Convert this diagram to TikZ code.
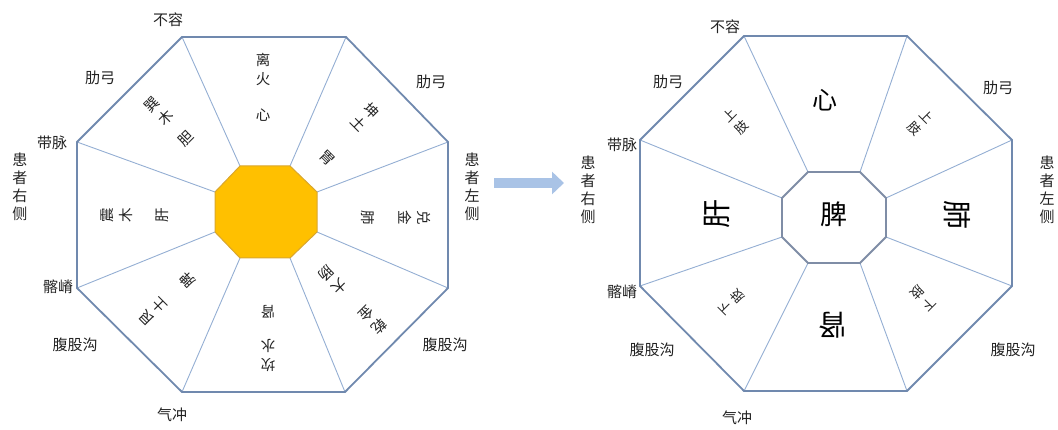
\documentclass[tikz,border=0pt]{standalone}
\usepackage{fontspec}
\newfontfamily\cjk{Noto Sans CJK SC}
\usetikzlibrary{arrows.meta}
\definecolor{octline}{HTML}{7089AE}
\definecolor{spoke}{HTML}{94AED3}
\definecolor{gold}{HTML}{FFC000}
\definecolor{goldline}{HTML}{D9A62E}
\definecolor{innerline}{HTML}{7F8DA6}
\definecolor{arrowblue}{HTML}{A9C3E6}
\definecolor{txt}{HTML}{222222}
\begin{document}
\begin{tikzpicture}[x=1pt,y=-1pt,
  lab/.style={font=\cjk\fontsize{15}{18}\selectfont, inner sep=0pt, text=txt, align=center},
  sec/.style={font=\cjk\fontsize{14.5}{19}\selectfont, inner sep=0pt, text=txt, align=center},
  small/.style={font=\cjk\fontsize{13}{17}\selectfont, inner sep=0pt, text=txt, align=center},
  big/.style={font=\cjk\fontsize{29}{30}\selectfont, inner sep=0pt, text=black, align=center},
  outeroct/.style={draw=octline, line width=1.8pt, line join=miter},
  spokeline/.style={draw=spoke, line width=0.9pt},
  goldoct/.style={draw=goldline, fill=gold, line width=1pt},
  whiteoct/.style={draw=innerline, fill=white, line width=1.8pt},
]
\useasboundingbox (0,0) rectangle (1058,430);

% ---------- left octagon ----------
\coordinate (L1) at (182,37);  \coordinate (L2) at (346,37);
\coordinate (L3) at (448,142); \coordinate (L4) at (448,288);
\coordinate (L5) at (345,392); \coordinate (L6) at (182,392);
\coordinate (L7) at (77,288);  \coordinate (L8) at (77,142);
\coordinate (I1) at (240,166); \coordinate (I2) at (290,166);
\coordinate (I3) at (317,192); \coordinate (I4) at (317,232);
\coordinate (I5) at (290,258); \coordinate (I6) at (240,258);
\coordinate (I7) at (215,232); \coordinate (I8) at (215,192);
\foreach \k in {1,...,8} { \draw[spokeline] (L\k) -- (I\k); }
\draw[outeroct] (L1) -- (L2) -- (L3) -- (L4) -- (L5) -- (L6) -- (L7) -- (L8) -- cycle;
\draw[goldoct] (I1) -- (I2) -- (I3) -- (I4) -- (I5) -- (I6) -- (I7) -- (I8) -- cycle;

% sector texts (left)
\node[sec] (li) at (263,69) {离\\火};
\node[sec] (xin) at (263,115) {心};
\node[sec, rotate=45] (xun) at (159,111) {巽\\木};
\node[sec, rotate=45] (dan) at (186,139) {胆};
\node[sec, rotate=-45] (kun) at (365,117) {坤\\土};
\node[sec, rotate=-45] (wei) at (327,158) {胃};
\node[sec, rotate=-90] (dui) at (415,218) {兑\\金};
\node[sec, rotate=-90] (fei) at (368,218) {肺};
\node[sec, rotate=-135] (qian) at (373,320) {乾\\金};
\node[sec, rotate=-135] (dach) at (333,280) {大\\肠};
\node[sec, rotate=180] (kan) at (268,355) {坎\\水};
\node[sec, rotate=180] (shen) at (268,312) {肾};
\node[sec, rotate=135] (gen) at (153,312) {艮\\土};
\node[sec, rotate=135] (pi) at (187,280) {脾};
\node[sec, rotate=90] (zhen) at (117,215) {震\\木};
\node[sec, rotate=90] (gan) at (162,215) {肝};

% outer labels (left)
\node[lab] (bur1) at (168,20) {不容};
\node[lab] (lg1) at (100,78) {肋弓};
\node[lab] (lg2) at (431,82) {肋弓};
\node[lab] (dm1) at (52,143) {带脉};
\node[lab] (yc1) at (20,187) {患\\者\\右\\侧};
\node[lab] (zc1) at (472,187) {患\\者\\左\\侧};
\node[lab] (qj1) at (58,287) {髂嵴};
\node[lab] (fg1) at (75,345) {腹股沟};
\node[lab] (fg2) at (445,345) {腹股沟};
\node[lab] (qc1) at (172,415) {气冲};

% ---------- arrow ----------
\coordinate (arrA) at (494,183);
\coordinate (arrB) at (564,183);
\draw[arrowblue, line width=9.5pt, -{Triangle[length=12pt,width=22pt]}] (arrA) -- (arrB);

% ---------- right octagon ----------
\coordinate (R1) at (744,36);   \coordinate (R2) at (907,36);
\coordinate (R3) at (1012,140); \coordinate (R4) at (1012,286);
\coordinate (R5) at (907,391);  \coordinate (R6) at (744,391);
\coordinate (R7) at (640,286);  \coordinate (R8) at (640,140);
\coordinate (J1) at (808,172); \coordinate (J2) at (860,172);
\coordinate (J3) at (886,198); \coordinate (J4) at (886,237);
\coordinate (J5) at (860,263); \coordinate (J6) at (808,263);
\coordinate (J7) at (782,237); \coordinate (J8) at (782,198);
\foreach \k in {1,...,8} { \draw[spokeline] (R\k) -- (J\k); }
\draw[outeroct] (R1) -- (R2) -- (R3) -- (R4) -- (R5) -- (R6) -- (R7) -- (R8) -- cycle;
\draw[whiteoct] (J1) -- (J2) -- (J3) -- (J4) -- (J5) -- (J6) -- (J7) -- (J8) -- cycle;

% sector texts (right)
\node[big, font=\cjk\fontsize{25}{26}\selectfont] (rxin) at (825,100) {心};
\node[big, font=\cjk\fontsize{27}{28}\selectfont] (rpi) at (834,214) {脾};
\node[big, rotate=90] (rgan) at (717,214) {肝};
\node[big, rotate=-90] (rfei) at (957,215) {肺};
\node[big, rotate=180] (rshen) at (833,325) {肾};
\node[small, rotate=45] (szl) at (736,121) {上\\肢};
\node[small, rotate=-45] (szr) at (921,123) {上\\肢};
\node[small, rotate=135] (xzl) at (732,302) {下\\肢};
\node[small, rotate=-135] (xzr) at (923,298) {下\\肢};

% outer labels (right)
\node[lab] (bur2) at (725,27) {不容};
\node[lab] (lg3) at (668,82) {肋弓};
\node[lab] (lg4) at (998,88) {肋弓};
\node[lab] (dm2) at (622,145) {带脉};
\node[lab] (yc2) at (588,190) {患\\者\\右\\侧};
\node[lab] (zc2) at (1047,190) {患\\者\\左\\侧};
\node[lab] (qj2) at (622,292) {髂嵴};
\node[lab] (fg3) at (652,350) {腹股沟};
\node[lab] (fg4) at (1013,350) {腹股沟};
\node[lab] (qc2) at (737,418) {气冲};
\end{tikzpicture}
\end{document}
